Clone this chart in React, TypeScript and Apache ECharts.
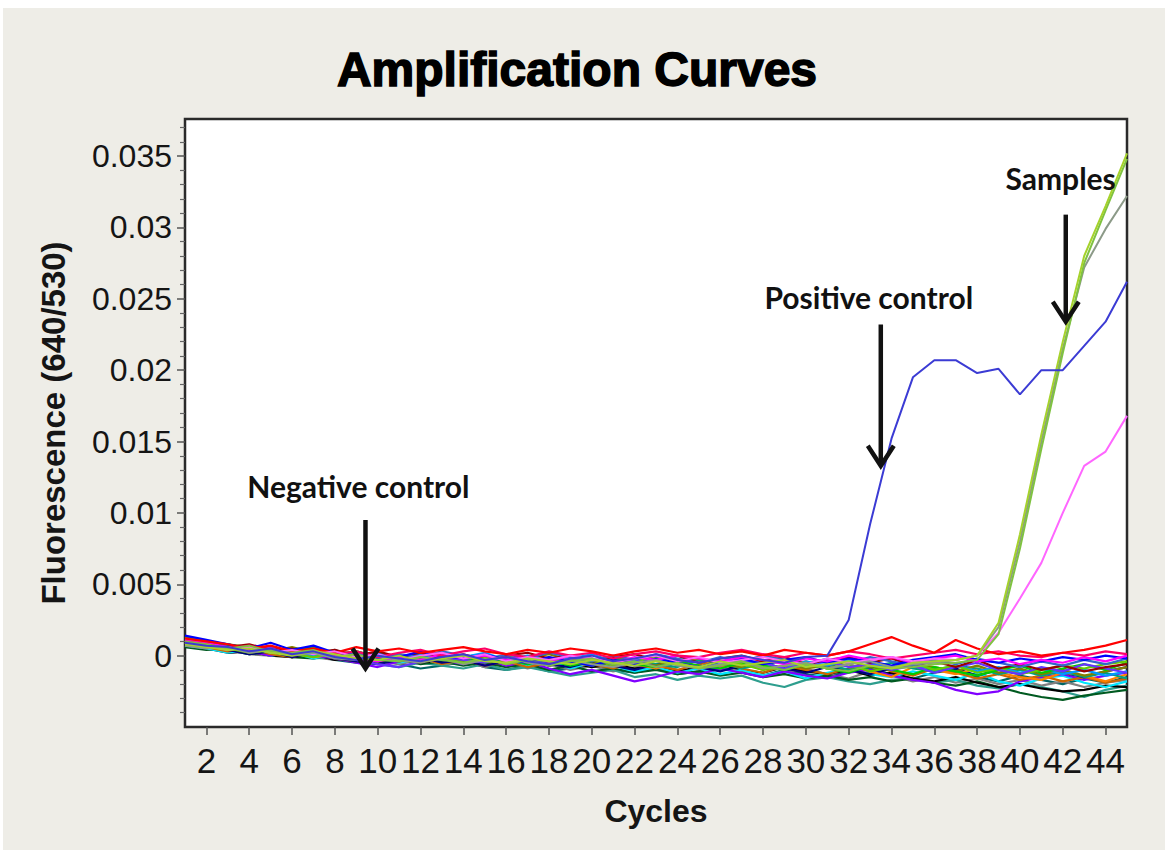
import React, { useEffect, useRef } from "react";
import * as echarts from "echarts";

// ---------- data ----------
const cycles = [1, 2, 3, 4, 5, 6, 7, 8, 9, 10, 11, 12, 13, 14, 15, 16, 17, 18, 19, 20, 21, 22, 23, 24, 25, 26, 27, 28, 29, 30, 31, 32, 33, 34, 35, 36, 37, 38, 39, 40, 41, 42, 43, 44, 45];
const xTickValues = [2, 4, 6, 8, 10, 12, 14, 16, 18, 20, 22, 24, 26, 28, 30, 32, 34, 36, 38, 40, 42, 44];
const yTickValues = [0, 0.005, 0.01, 0.015, 0.02, 0.025, 0.03, 0.035];
const yTickLabels = ["0", "0.005", "0.01", "0.015", "0.02", "0.025", "0.03", "0.035"];

// fluorescence values in units of 1e-4 (640/530), cycles 1..45
const negRed = [12, 10, 8, 5, 7, 3, 5, 2, 6, 3, 5, 2, 4, 6, 3, 1, 4, 2, 5, 3, 0, 3, 5, 2, 4, 1, 3, 0, 4, 2, 0, 3, 8, 13, 7, 2, 11, 5, 1, 3, 0, 2, 4, 7, 11];
const negDeepPink = [10, 8, 5, 7, 4, 2, 5, 1, 3, -1, 2, 4, 0, 3, 5, 1, -1, 3, 0, 2, -2, 1, 3, 0, -1, 2, 4, 1, -1, 2, 0, 3, 1, -2, 0, 2, 4, 1, 3, 0, -1, 2, 0, 3, 1];
const negMagenta = [11, 9, 6, 4, 5, 1, 3, 0, -2, -4, -1, -3, 1, -2, 0, -3, -1, -4, 0, -2, -5, -1, -3, 0, -2, -4, -1, -3, -6, -2, -4, 0, -3, -1, -5, -2, 0, -4, -2, -6, -3, -5, -1, -4, 0];
const negBlue = [14, 11, 8, 5, 9, 4, 7, 2, 0, -3, -1, 3, 0, -2, 1, -3, -5, -1, -4, -7, -3, -6, -2, -5, -8, -4, -2, -6, -3, -1, -5, -2, -4, -7, -3, -1, 1, -3, -5, -2, -4, -1, -3, 0, -2];
const negNavy = [8, 7, 4, 1, 3, -1, 2, -2, -4, -6, -3, -1, -5, -3, -7, -4, -2, -6, -8, -4, -7, -10, -6, -3, -8, -11, -7, -5, -9, -12, -8, -10, -13, -9, -7, -11, -9, -14, -10, -13, -9, -12, -15, -11, -8];
const negCyan = [7, 5, 2, 4, 0, 2, -2, 1, -3, -1, -5, -2, -6, -3, -1, -4, -7, -3, -9, -5, -7, -11, -8, -12, -9, -13, -10, -14, -11, -16, -12, -9, -13, -15, -11, -14, -17, -12, -18, -21, -16, -14, -19, -22, -18];
const negSkyBlue = [9, 6, 8, 3, 5, 2, 0, 4, -1, 2, -2, 1, -3, -1, 2, -3, 0, -4, -2, 1, -4, -6, -2, -5, -8, -5, -3, -7, -9, -4, -7, -3, -5, -9, -6, -10, -7, -11, -8, -12, -9, -13, -10, -14, -11];
const negGreen = [10, 8, 7, 6, 2, 4, 6, 1, 3, -1, -2, -4, 1, -2, -5, -2, -6, -3, -7, -4, -2, -6, -8, -4, -7, -9, -5, -7, -10, -6, -9, -12, -7, -10, -13, -8, -11, -14, -10, -7, -12, -9, -6, -10, -5];
const negDarkGreen = [6, 4, 5, 1, 3, -1, -2, 1, -3, -5, -2, -6, -4, -7, -5, -8, -6, -10, -7, -11, -9, -12, -10, -13, -11, -14, -12, -15, -13, -16, -14, -17, -15, -18, -16, -19, -21, -18, -22, -26, -29, -31, -28, -26, -24];
const negTeal = [8, 6, 4, 1, 3, 0, -2, -1, -4, -6, -8, -5, -7, -9, -6, -10, -8, -11, -14, -12, -10, -15, -13, -17, -14, -16, -14, -19, -22, -17, -15, -18, -20, -17, -16, -19, -17, -21, -23, -20, -22, -25, -29, -24, -21];
const negBlack = [7, 5, 2, 3, 0, -1, 1, -3, -1, -4, -2, -5, -3, -1, -4, -6, -3, -7, -5, -8, -6, -9, -7, -11, -8, -6, -10, -12, -8, -11, -13, -10, -14, -12, -16, -18, -15, -19, -22, -20, -23, -25, -24, -21, -22];
const negOrange = [9, 7, 4, 6, 2, 3, -1, 1, -3, 0, -2, -4, -1, -5, -2, -6, -3, -1, -5, -7, -3, -6, -9, -5, -3, -8, -5, -10, -7, -4, -9, -6, -11, -15, -8, -10, -13, -9, -12, -15, -17, -12, -14, -18, -13];
const negPurple = [12, 9, 6, 3, 0, 4, 0, -2, -5, -8, -4, -1, -3, -6, -2, -7, -4, -9, -13, -10, -14, -18, -15, -11, -13, -9, -12, -15, -11, -14, -16, -12, -10, -14, -17, -19, -24, -27, -25, -18, -15, -13, -17, -14, -12];
const negDarkRed = [11, 9, 6, 8, 4, 5, 2, 4, 0, 3, -1, 2, -2, 1, -3, 0, 2, -2, 0, -4, -1, 1, -3, 0, -5, -2, 0, -4, -1, -6, -3, -1, -5, -2, -7, -4, -8, -3, -9, -6, -10, -7, -11, -8, -6];
const negOlive = [13, 10, 8, 6, 3, 6, 2, 0, 3, -1, 1, -3, 0, -4, -1, -5, -2, 1, -3, -6, -1, -4, -7, -3, -2, -6, -8, -3, -5, -9, -7, -4, -8, -10, -6, -8, -11, -7, -12, -9, -13, -10, -14, -11, -8];
const negBrown = [8, 6, 3, 5, 1, -1, 3, -2, -4, -1, -4, -2, -6, -3, -7, -4, -8, -5, -2, -6, -9, -5, -7, -10, -6, -4, -9, -12, -7, -10, -13, -9, -6, -11, -14, -9, -12, -16, -13, -17, -14, -18, -15, -19, -16];
const negLime = [9, 8, 5, 2, 4, 1, -1, 2, -2, -4, 0, -3, -1, -5, -2, 0, -4, -2, -6, -3, -7, -4, -1, -5, -8, -4, -6, -10, -7, -5, -9, -6, -11, -8, -5, -10, -7, -12, -9, -13, -10, -7, -9, -6, -4];
const negSlateBlue = [11, 8, 6, 3, 6, 2, 4, 0, -3, -6, -8, -4, -1, -3, -5, -1, -3, -6, -4, -2, -6, -3, -8, -5, -9, -7, -3, -5, -9, -6, -4, -8, -6, -10, -7, -12, -8, -5, -10, -13, -8, -11, -6, -9, -12];
const negGray = [7, 5, 4, 1, 0, 3, -1, -3, 0, -4, -6, -3, -7, -4, -8, -5, -9, -6, -10, -7, -11, -8, -6, -10, -13, -9, -11, -15, -12, -9, -13, -16, -11, -14, -18, -15, -19, -16, -20, -17, -21, -18, -22, -19, -17];
const negSeaGreen = [12, 9, 8, 5, 2, 5, 1, -1, 2, -2, -4, 0, -3, -1, 1, -3, -6, -2, -4, -7, -4, -2, -6, -8, -3, -5, -9, -6, -4, -8, -6, -10, -8, -5, -9, -11, -7, -9, -13, -10, -14, -11, -15, -12, -16];
const negSteelBlue = [9, 7, 6, 3, 5, 1, 3, -1, 2, -2, 1, -1, 3, 0, -3, 1, -2, 2, -1, -4, 0, -3, 1, -2, -5, -1, -4, 0, -3, -6, -2, -5, -1, -4, -7, -3, -6, -2, -5, -8, -4, -7, -3, -6, -2];
const negDarkTeal = [8, 6, 3, 4, 1, -1, 0, -3, -5, -2, -6, -9, -7, -4, -8, -10, -7, -11, -9, -6, -10, -12, -9, -13, -11, -8, -12, -14, -10, -13, -15, -11, -9, -13, -16, -12, -10, -15, -18, -14, -17, -20, -16, -19, -15];

const samplePink = [9, 7, 4, 6, 2, 4, 1, 3, -1, 1, -3, 0, 2, -2, 1, -4, -1, -3, 0, -2, -5, -2, 0, -4, -1, -5, -3, -1, -4, -6, -2, -5, -3, -1, -4, -2, -3, 0, 16, 40, 65, 100, 133, 143, 168];
const sampleGray = [7, 5, 6, 2, 4, 0, 2, -2, -3, 0, -3, -5, -2, -6, -3, -1, -5, -7, -3, -6, -8, -5, -3, -7, -9, -6, -4, -9, -7, -5, -9, -6, -4, -8, -6, -5, -3, 0, 20, 80, 150, 215, 272, 299, 322];
const sampleGreenB = [10, 8, 5, 7, 3, 2, 4, -1, 1, -3, -4, -1, -3, -5, -2, -6, -3, -7, -4, -2, -6, -4, -8, -5, -9, -7, -4, -8, -10, -6, -9, -11, -7, -9, -8, -6, -5, -3, 15, 75, 145, 212, 275, 312, 348];
const sampleGreenA = [8, 6, 4, 5, 2, 0, 3, 1, -2, -3, 0, -4, -2, 0, -4, -5, -2, -4, -6, -3, -5, -7, -4, -6, -8, -4, -7, -5, -3, -8, -6, -4, -7, -9, -5, -4, -3, 0, 23, 85, 155, 220, 280, 315, 352];
const positiveControl = [9, 7, 6, 3, 5, 1, 3, -1, -3, 0, -2, -4, -1, 1, -3, -1, -4, -6, -2, 0, -4, -2, 1, -3, -5, -2, 0, -3, -5, -1, 0, 25, 92, 152, 195, 207, 207, 198, 201, 183, 200, 200, 217, 234, 262];

const curves = [
  { name: "neg-darkteal", color: "#006666", values: negDarkTeal },
  { name: "neg-gray", color: "#808080", values: negGray },
  { name: "neg-teal", color: "#2E9E8E", values: negTeal },
  { name: "neg-darkgreen", color: "#005A20", values: negDarkGreen },
  { name: "neg-black", color: "#000000", values: negBlack },
  { name: "neg-cyan", color: "#00E5FF", values: negCyan },
  { name: "neg-purple", color: "#8000FF", values: negPurple },
  { name: "neg-brown", color: "#CC6600", values: negBrown },
  { name: "neg-navy", color: "#000080", values: negNavy },
  { name: "neg-orange", color: "#FF8000", values: negOrange },
  { name: "neg-seagreen", color: "#00A080", values: negSeaGreen },
  { name: "neg-olive", color: "#808000", values: negOlive },
  { name: "neg-skyblue", color: "#0099FF", values: negSkyBlue },
  { name: "neg-green", color: "#00CC00", values: negGreen },
  { name: "neg-lime", color: "#66CC00", values: negLime },
  { name: "neg-slateblue", color: "#6633FF", values: negSlateBlue },
  { name: "neg-darkred", color: "#990000", values: negDarkRed },
  { name: "neg-steelblue", color: "#3366CC", values: negSteelBlue },
  { name: "neg-blue", color: "#0000FF", values: negBlue },
  { name: "neg-magenta", color: "#FF00FF", values: negMagenta },
  { name: "neg-deeppink", color: "#FF0066", values: negDeepPink },
  { name: "neg-red", color: "#FF0000", values: negRed },
  { name: "sample-pink", color: "#FF66FF", values: samplePink },
  { name: "sample-gray", color: "#8C9A88", values: sampleGray },
  { name: "sample-greenB", color: "#7FC241", values: sampleGreenB },
  { name: "sample-greenA", color: "#A5D22C", values: sampleGreenA },
  { name: "positive-control", color: "#3B3BD4", values: positiveControl },
];

// annotation anchors (data coordinates: cycle, fluorescence)
const annotations = [
  { label: "Negative control", text: [9.1, 0.0119], top: [9.43, 0.0095], tip: [9.43, -0.0009] },
  { label: "Positive control", text: [32.94, 0.0251], top: [33.5, 0.0232], tip: [33.5, 0.0133] },
  { label: "Samples", text: [41.9, 0.0335], top: [42.14, 0.0309], tip: [42.14, 0.0234] },
];

const X_MIN = 1;
const X_MAX = 45;
const Y_MIN = -0.005;
const Y_MAX = 0.0376;

export default function App() {
  const ref = useRef<HTMLDivElement>(null);

  useEffect(() => {
    if (!ref.current) return;
    const chart = echarts.init(ref.current, null, { renderer: "svg" });

    const minorTicks: number[] = [];
    for (let i = -5; i <= 37; i++) {
      if (i % 5 !== 0) minorTicks.push(i / 1000);
    }

    const series = curves.map((c) => ({
      name: c.name,
      type: "line",
      data: c.values.map((v, i) => [cycles[i], v * 1e-4]),
      showSymbol: false,
      symbol: "none",
      lineStyle: { color: c.color, width: c.name.startsWith("neg") ? 2.2 : 2 },
      itemStyle: { color: c.color },
      silent: true,
      clip: true,
      z: 2,
    }));

    const labelFont = "'Liberation Sans', Arial, sans-serif";

    chart.setOption({
      animation: false,
      backgroundColor: "#EEEDE7",
      grid: {
        left: 185,
        right: 41,
        top: 119,
        bottom: 127,
        show: true,
        backgroundColor: "#FFFFFF",
        borderColor: "#2A2A2A",
        borderWidth: 2.5,
      },
      xAxis: {
        type: "value",
        min: X_MIN,
        max: X_MAX,
        axisLine: { show: false, onZero: false },
        splitLine: { show: false },
        axisTick: { show: true, customValues: xTickValues, length: 8, lineStyle: { color: "#555", width: 1.5 } },
        axisLabel: {
          customValues: xTickValues,
          fontFamily: "'Liberation Sans Narrow', 'Liberation Sans', Arial, sans-serif",
          fontSize: 35,
          color: "#151515",
          margin: 16,
        },
        name: "Cycles",
        nameLocation: "middle",
        nameGap: 68,
        nameTextStyle: { fontFamily: labelFont, fontWeight: "bold", fontSize: 32, color: "#151515" },
      },
      yAxis: [
        {
          type: "value",
          min: Y_MIN,
          max: Y_MAX,
          position: "left",
          axisLine: { show: false, onZero: false },
          splitLine: { show: false },
          axisTick: { show: true, customValues: yTickValues, length: 8, lineStyle: { color: "#555", width: 1.5 } },
          axisLabel: {
            customValues: yTickValues,
            formatter: (v: number) => {
              const idx = yTickValues.findIndex((t) => Math.abs(t - v) < 1e-9);
              return idx >= 0 ? yTickLabels[idx] : "";
            },
            fontFamily: labelFont,
            fontSize: 32,
            color: "#151515",
            margin: 13,
          },
          name: "Fluorescence (640/530)",
          nameLocation: "middle",
          nameGap: 115,
          nameTextStyle: { fontFamily: labelFont, fontWeight: "bold", fontSize: 33, color: "#151515" },
        },
        {
          type: "value",
          min: Y_MIN,
          max: Y_MAX,
          position: "left",
          axisLine: { show: false, onZero: false },
          splitLine: { show: false },
          axisLabel: { show: false },
          axisTick: { show: true, customValues: minorTicks, length: 5, lineStyle: { color: "#666", width: 1.2 } },
        },
      ],
      series,
    });

    const graphics: any[] = [
      { type: "rect", shape: { x: 0, y: 0, width: 1168, height: 8 }, style: { fill: "#FFFFFF" }, silent: true },
      { type: "rect", shape: { x: 0, y: 0, width: 3, height: 854 }, style: { fill: "#FFFFFF" }, silent: true },
      { type: "rect", shape: { x: 1165, y: 0, width: 3, height: 854 }, style: { fill: "#FFFFFF" }, silent: true },
      { type: "rect", shape: { x: 0, y: 850, width: 1168, height: 4 }, style: { fill: "#FFFFFF" }, silent: true },
      {
        type: "text",
        x: 577,
        y: 69,
        style: {
          text: "Amplification Curves",
          fontFamily: labelFont,
          fontWeight: "bold",
          fontSize: 48,
          fill: "#000",
          stroke: "#000",
          lineWidth: 1.5,
          align: "center",
          verticalAlign: "middle",
        },
        silent: true,
      },
    ];

    annotations.forEach((a) => {
      const t = chart.convertToPixel({ gridIndex: 0 }, a.text) as number[];
      const p0 = chart.convertToPixel({ gridIndex: 0 }, a.top) as number[];
      const p1 = chart.convertToPixel({ gridIndex: 0 }, a.tip) as number[];
      graphics.push({
        type: "text",
        x: t[0],
        y: t[1],
        z: 100,
        style: {
          text: a.label,
          fontFamily: "Lato, 'Open Sans', sans-serif",
          fontWeight: "bold",
          fontSize: 30,
          fill: "#111",
          align: "center",
          verticalAlign: "middle",
        },
        silent: true,
      });
      graphics.push({
        type: "line",
        z: 100,
        shape: { x1: p0[0], y1: p0[1], x2: p1[0], y2: p1[1] - 2 },
        style: { stroke: "#111", lineWidth: 4.5 },
        silent: true,
      });
      graphics.push({
        type: "polyline",
        z: 100,
        shape: {
          points: [
            [p1[0] - 13, p1[1] - 20],
            [p1[0], p1[1]],
            [p1[0] + 13, p1[1] - 20],
          ],
        },
        style: { stroke: "#111", lineWidth: 4.5, fill: null, lineJoin: "miter" },
        silent: true,
      });
    });

    chart.setOption({ graphic: graphics });

    return () => chart.dispose();
  }, []);

  return <div ref={ref} style={{ position: "fixed", left: 0, top: 0, width: 1168, height: 854 }} />;
}
